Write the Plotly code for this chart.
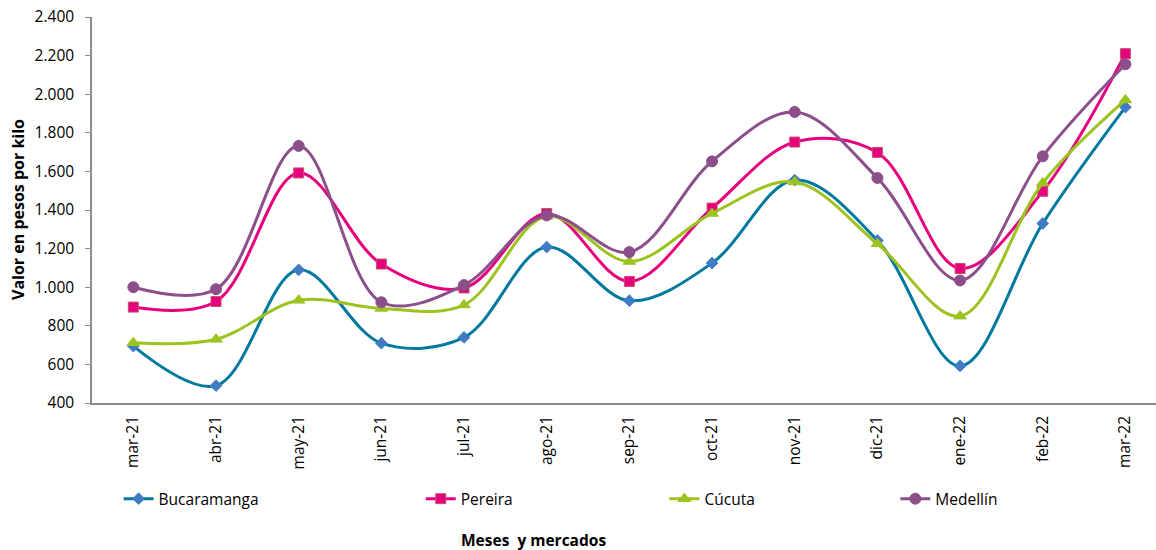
import plotly.graph_objects as go

months = ["mar-21", "abr-21", "may-21", "jun-21", "jul-21", "ago-21", "sep-21",
          "oct-21", "nov-21", "dic-21", "ene-22", "feb-22", "mar-22"]
bucaramanga = [695, 490, 1090, 710, 740, 1208, 930, 1125, 1555, 1242, 592, 1330, 1933]
pereira = [897, 926, 1592, 1120, 996, 1382, 1030, 1410, 1752, 1698, 1097, 1497, 2210]
cucuta = [712, 730, 932, 890, 908, 1368, 1133, 1382, 1545, 1225, 850, 1540, 1970]
medellin = [1000, 990, 1732, 922, 1011, 1372, 1182, 1652, 1908, 1566, 1035, 1678, 2155]

series = [
    ("Bucaramanga", bucaramanga, "#00799E", "#3F7CC4", "#3F7CC4", "diamond", 9),
    ("Pereira", pereira, "#E6007E", "#E6007E", "#C8506A", "square", 10),
    ("Cúcuta", cucuta, "#9CC31F", "#9CC31F", "#9CC31F", "triangle-up", 11),
    ("Medellín", medellin, "#8C4F8C", "#8C4F8C", "#8C4F8C", "circle", 11),
]

legend_x = [0.025, 0.309, 0.538, 0.755]
L = 92
W = 1156
plot_w = W - L

fig = go.Figure()
for i, (name, vals, lc, mc, mlc, sym, ms) in enumerate(series):
    fig.add_trace(go.Scatter(
        x=months, y=vals, name=name, mode="lines+markers",
        line=dict(color=lc, width=3, shape="spline", smoothing=1.0),
        marker=dict(symbol=sym, size=ms, color=mc, line=dict(color=mlc, width=1)),
        legend="legend" if i == 0 else f"legend{i+1}",
    ))

font_family = "Open Sans"
leg_common = dict(orientation="h", yanchor="middle", y=-0.249, xanchor="left",
                  font=dict(family=font_family, size=15.5, color="#000000"),
                  bgcolor="rgba(0,0,0,0)", borderwidth=0)

layout_legends = {}
for i, lx in enumerate(legend_x):
    key = "legend" if i == 0 else f"legend{i+1}"
    layout_legends[key] = dict(x=lx, **leg_common)

fig.update_layout(
    width=W, height=550,
    margin=dict(l=L, r=0, t=17, b=147),
    paper_bgcolor="white", plot_bgcolor="white",
    separators=",.",
    font=dict(family=font_family, size=15.5, color="#000000"),
    showlegend=True,
    xaxis=dict(
        type="category", range=[-0.5, 12.37],
        showline=True, linecolor="#8C8C8C", linewidth=1.5,
        showgrid=False, ticks="", tickangle=-90, ticklabelstandoff=5,
        tickfont=dict(family=font_family, size=15.5, color="#000000"),
        zeroline=False,
    ),
    yaxis=dict(
        range=[400, 2400], dtick=200, tickformat=",d",
        showline=True, linecolor="#8C8C8C", linewidth=1.5,
        showgrid=False, ticks="outside", ticklen=5, tickcolor="#8C8C8C",
        ticklabelstandoff=8,
        tickfont=dict(family=font_family, size=15.5, color="#000000"),
        zeroline=False,
    ),
    annotations=[
        dict(text="<b>Valor en pesos por kilo</b>", xref="paper", yref="paper",
             x=(18 - L) / plot_w, y=0.5, textangle=-90, showarrow=False,
             font=dict(family=font_family, size=16, color="#000000"),
             xanchor="center", yanchor="middle"),
        dict(text="<b>Meses  y mercados</b>", xref="paper", yref="paper",
             x=(533 - L) / plot_w, y=(403 - 540) / 386, showarrow=False,
             font=dict(family=font_family, size=15.5, color="#000000"),
             xanchor="center", yanchor="middle"),
    ],
    **layout_legends,
)

fig.write_html("out.html", config={"displayModeBar": False},
               post_script="document.body.style.margin='0';document.body.style.overflow='hidden';")
